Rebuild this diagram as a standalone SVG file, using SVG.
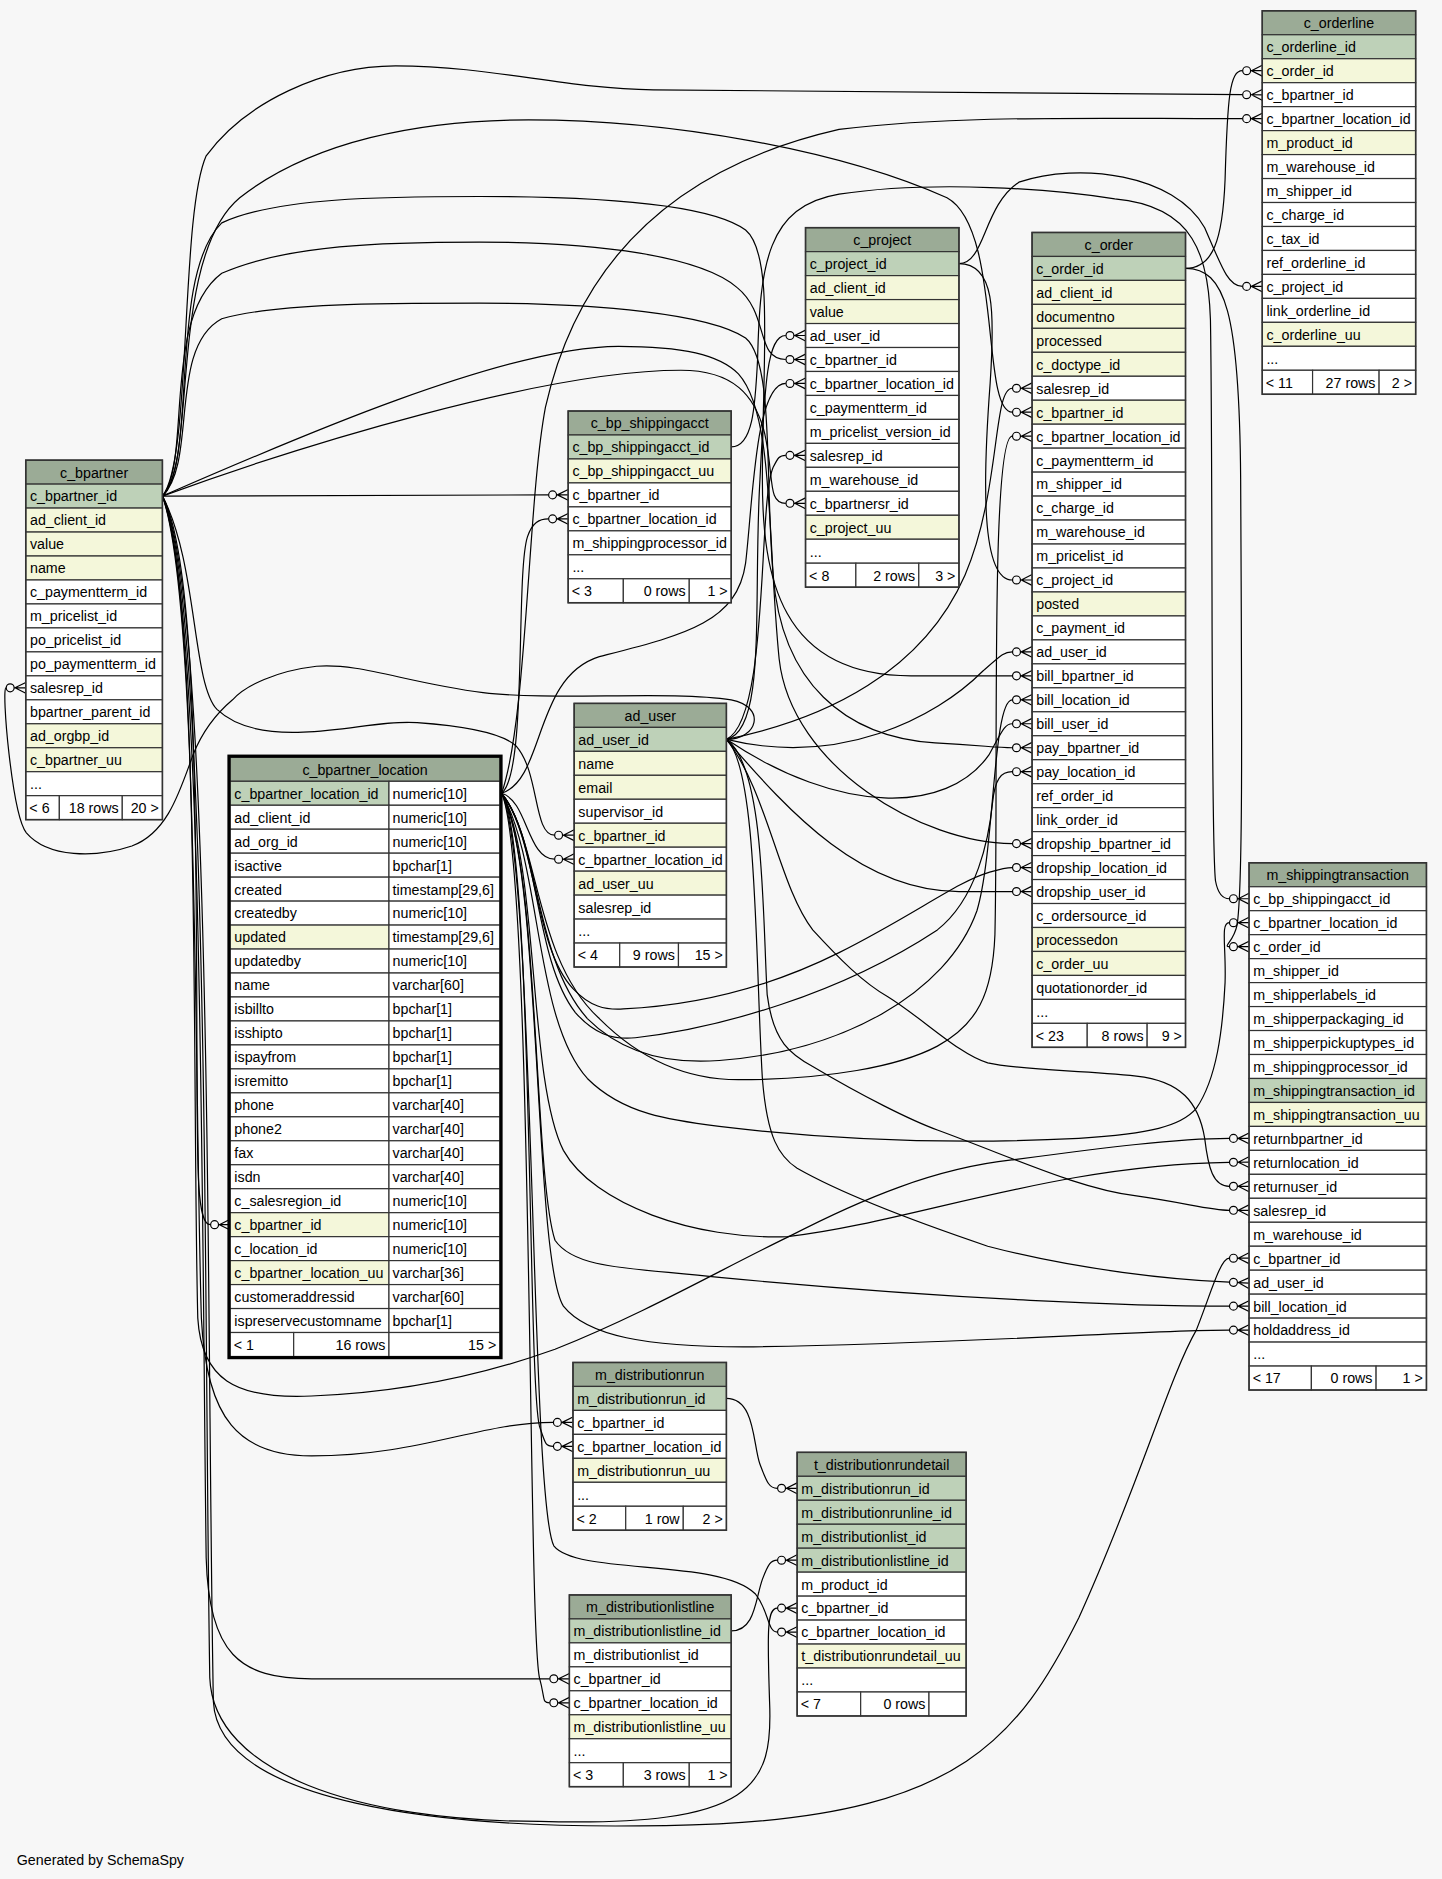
<svg xmlns="http://www.w3.org/2000/svg" width="1442" height="1879" viewBox="0 0 1442 1879">
<style>
.h{fill:#9bab96;stroke:#333;stroke-width:1}
.pk{fill:#bed1b8;stroke:#333;stroke-width:1}
.ix{fill:#f4f7da;stroke:#333;stroke-width:1}
.w{fill:#ffffff;stroke:#333;stroke-width:1}
text{font-family:"Liberation Sans",Arial,Helvetica,sans-serif;font-size:11.9px;fill:#000}
.c{text-anchor:middle}
.r{text-anchor:end}
.e path{fill:none;stroke:#000;stroke-width:1;marker-end:url(#cf)}
.ob{fill:none;stroke:#333;stroke-width:1.3}
</style>
<defs>
<marker id="cf" markerUnits="userSpaceOnUse" viewBox="0 -6 18 12" markerWidth="18" markerHeight="12" refX="0" refY="0" orient="auto" overflow="visible">
<circle cx="3.5" cy="0" r="3.3" fill="none" stroke="#000" stroke-width="1"/>
<path d="M6.8,0 H16.5 M7.5,0 L16.5,-4.5 M7.5,0 L16.5,4.5" fill="none" stroke="#000" stroke-width="1"/>
</marker>
</defs>
<rect x="0" y="0" width="1442" height="1879" fill="#f7f7f7"/>
<g transform="scale(1.1987,1.1983)">
<g id="connectors" class="e">
<path d="M135.5,414 L457.5,413"/>
<path d="M135.5,414 C160,385 150,180 172,130 C205,85 270,55 330,55 C410,55 470,74 545,75 L1036.5,79"/>
<path d="M135.5,414 C165,385 140,215 200,165 C260,118 350,100 441,100 C560,100 700,125 790,165 C836,190 818,344 844.5,344"/>
<path d="M135.5,414 C160,385 135,265 185,228 C240,204 320,202 400,202 C500,202 585,214 615,240 C642,262 630,300 655.5,300"/>
<path d="M135.5,414 C250,372 455,309 568,309 C612,309 630,330 638,362 C646,398 640,420 655.5,420"/>
<path d="M135.5,414 C165,385 140,230 185,186 C230,165 320,164 400,164 C500,164 592,170 622,192 C646,212 636,300 636,400 C636,480 650,564 760,564 L844.5,564"/>
<path d="M135.5,414 C165,385 140,290 185,266 C230,253 320,253 400,253 C500,253 592,262 622,282 C646,302 638,400 645,480 C652,570 705,615 780,620 C820,622 830,624 844.5,624"/>
<path d="M135.5,414 C232,372 420,289 516,289 C570,289 600,296 616,312 C646,345 640,450 650,550 C660,640 770,704 844.5,704"/>
<path d="M135.5,414 C165,470 160,570 181,592 C200,610 230,612 253,611 C290,610 320,601 348,603 C390,606 420,612 431,623 C450,645 445,697 462.5,697"/>
<path d="M135.5,414 C160,460 163,620 164,800 C165,960 162,1022 175.5,1022"/>
<path d="M135.5,414 C166,500 162,900 168,1100 C172,1185 200,1215 260,1215 C350,1215 400,1187 461.5,1187"/>
<path d="M135.5,414 C170,500 168,1000 172,1300 C174,1380 200,1401 260,1401 L458.5,1401"/>
<path d="M135.5,414 C175,500 170,1100 175,1400 C178,1480 300,1520 450,1520 C630,1525 645,1490 642,1420 C640,1360 640,1342 648.5,1342"/>
<path d="M135.5,414 C178,500 172,1100 178,1420 C182,1500 350,1532 600,1522 C800,1512 850,1450 900,1350 C950,1240 975,1150 998,1110 C1010,1080 1018,1050 1025.5,1050"/>
<path d="M135.5,414 C168,500 160,900 165,1100 C168,1150 195,1168 260,1165 C340,1162 410,1145 463,1126 C540,1095 600,1060 658,1032 C720,1000 780,975 844,968 C920,958 980,950 1025.5,950"/>
<path d="M418.5,662 C440,645 430,480 440,448 C444,436 450,433 457.5,433"/>
<path d="M418.5,662 C455,650 445,565 500,548 C570,530 615,520 622,470 C628,420 630,320 655.5,320"/>
<path d="M418.5,662 C440,668 440,717 462.5,717"/>
<path d="M418.5,662 C450,700 445,800 500,850 C540,890 580,901 616,901 C690,901 750,890 782,873 C815,855 828,830 830,780 C833,650 826,364 844.5,364"/>
<path d="M418.5,662 C450,700 445,800 490,850 C520,880 560,888 600,885 C700,878 790,830 815,760 C830,710 828,584 844.5,584"/>
<path d="M418.5,662 C450,700 445,800 480,845 C495,862 510,868 530,866 C600,858 700,830 782,776 C815,750 825,700 828,670 C830,650 835,644 844.5,644"/>
<path d="M418.5,662 C448,700 445,790 478,825 C492,840 505,843 520,842 C600,838 660,815 700,795 C760,765 800,735 825,728 C835,725 838,724 844.5,724"/>
<path d="M418.5,662 C440,600 440,420 455,340 C482,220 560,140 700,108 C800,96 900,99 1036.5,99"/>
<path d="M418.5,662 C452,720 445,850 490,900 C520,930 560,935 600,940 C700,952 800,955 900,950 C960,946 985,940 998,925 C1015,900 1020,860 1022,820 C1023,790 1018,770 1025.5,770"/>
<path d="M418.5,662 C450,720 440,900 470,960 C495,1005 580,1035 657,1032 C760,1020 880,972 1025.5,970"/>
<path d="M418.5,662 C450,720 445,980 463,1035 C480,1060 530,1058 600,1066 C800,1085 950,1090 1025.5,1090"/>
<path d="M418.5,662 C452,720 445,1050 470,1090 C490,1115 540,1124 620,1124 C800,1122 950,1110 1025.5,1110"/>
<path d="M418.5,662 C445,700 440,1150 450,1190 C455,1205 455,1207 461.5,1207"/>
<path d="M418.5,662 C445,720 440,1350 450,1400 C455,1418 452,1421 458.5,1421"/>
<path d="M418.5,662 C447,720 442,1250 462,1290 C482,1315 600,1300 630,1330 C642,1345 640,1362 648.5,1362"/>
<path d="M606,617 C632,617 640,590 610,584 C560,576 460,585 403,578 C340,570 300,553 264,556 C230,560 205,572 194,584 C175,600 165,620 161,630 C150,660 140,695 110,706 C80,716 40,716 22,695 C10,680 1,574 5,574"/>
<path d="M606,617 C640,610 628,500 634,400 C638,320 640,280 655.5,280"/>
<path d="M606,617 C642,600 632,420 645,390 C649,382 650,380 655.5,380"/>
<path d="M606,617 C690,600 770,560 805,480 C835,410 828,324 844.5,324"/>
<path d="M606,617 C700,640 780,600 820,560 C836,546 838,544 844.5,544"/>
<path d="M606,617 C700,680 790,680 825,630 C836,610 838,604 844.5,604"/>
<path d="M606,617 C660,680 720,744 800,744 L844.5,744"/>
<path d="M606,617 C640,660 650,740 678,776 C700,800 720,820 741,832 C770,850 800,880 824,887 C850,893 900,893 948,898 C985,902 1000,920 1005,950 C1008,975 1012,990 1025.5,990"/>
<path d="M606,617 C638,640 636,760 640,830 C645,870 660,880 678,890 C720,915 760,935 782,943 C850,968 900,992 948,998 C990,1004 1010,1010 1025.5,1010"/>
<path d="M606,617 C632,640 630,800 636,900 C640,950 650,965 665,975 C700,995 750,1015 824,1040 C900,1060 980,1068 1025.5,1070"/>
<path d="M800,220 C830,220 830,260 826,320 C820,400 818,484 844.5,484"/>
<path d="M800,220 C822,220 820,172 850,152 C900,135 980,145 1005,190 C1020,225 1025,239 1036.5,239"/>
<path d="M989,224 C1012,224 1020,200 1022,150 C1024,80 1026,59 1036.5,59"/>
<path d="M989,224 C1022,224 1034,260 1035,400 C1036,600 1037,740 1032,772 C1029,786 1020,790 1025.5,790"/>
<path d="M610,373 C628,373 630,340 632,300 C634,220 640,172 700,162 C780,150 880,158 930,166 C995,172 1010,210 1010,280 C1012,450 1010,700 1014,735 C1016,746 1020,750 1025.5,750"/>
<path d="M606,1167 C630,1167 628,1205 634,1222 C640,1238 642,1242 648.5,1242"/>
<path d="M610,1361 C630,1361 630,1335 636,1318 C641,1305 643,1302 648.5,1302"/>
</g>

<g id="c_bpartner">
<rect class="h" x="21.5" y="384" width="114" height="20"/><text class="c" x="78.5" y="398.5">c_bpartner</text>
<rect class="pk" x="21.5" y="404" width="114" height="20"/><text x="25" y="418.5">c_bpartner_id</text>
<rect class="ix" x="21.5" y="424" width="114" height="20"/><text x="25" y="438.5">ad_client_id</text>
<rect class="ix" x="21.5" y="444" width="114" height="20"/><text x="25" y="458.5">value</text>
<rect class="ix" x="21.5" y="464" width="114" height="20"/><text x="25" y="478.5">name</text>
<rect class="w" x="21.5" y="484" width="114" height="20"/><text x="25" y="498.5">c_paymentterm_id</text>
<rect class="w" x="21.5" y="504" width="114" height="20"/><text x="25" y="518.5">m_pricelist_id</text>
<rect class="w" x="21.5" y="524" width="114" height="20"/><text x="25" y="538.5">po_pricelist_id</text>
<rect class="w" x="21.5" y="544" width="114" height="20"/><text x="25" y="558.5">po_paymentterm_id</text>
<rect class="w" x="21.5" y="564" width="114" height="20"/><text x="25" y="578.5">salesrep_id</text>
<rect class="w" x="21.5" y="584" width="114" height="20"/><text x="25" y="598.5">bpartner_parent_id</text>
<rect class="ix" x="21.5" y="604" width="114" height="20"/><text x="25" y="618.5">ad_orgbp_id</text>
<rect class="ix" x="21.5" y="624" width="114" height="20"/><text x="25" y="638.5">c_bpartner_uu</text>
<rect class="w" x="21.5" y="644" width="114" height="20"/><text x="25" y="658.5">...</text>
<rect class="w" x="21.5" y="664" width="28" height="20"/><rect class="w" x="49.5" y="664" width="52.5" height="20"/><rect class="w" x="102" y="664" width="33.5" height="20"/>
<text x="24.5" y="678.5">&lt; 6</text><text class="r" x="99" y="678.5">18 rows</text><text class="r" x="132.5" y="678.5">20 &gt;</text>
<rect class="ob" x="21.5" y="384" width="114" height="300"/>
</g>

<g id="c_bp_shippingacct">
<rect class="h" x="474" y="343" width="136" height="20"/><text class="c" x="542" y="357.5">c_bp_shippingacct</text>
<rect class="pk" x="474" y="363" width="136" height="20"/><text x="477.5" y="377.5">c_bp_shippingacct_id</text>
<rect class="ix" x="474" y="383" width="136" height="20"/><text x="477.5" y="397.5">c_bp_shippingacct_uu</text>
<rect class="w" x="474" y="403" width="136" height="20"/><text x="477.5" y="417.5">c_bpartner_id</text>
<rect class="w" x="474" y="423" width="136" height="20"/><text x="477.5" y="437.5">c_bpartner_location_id</text>
<rect class="w" x="474" y="443" width="136" height="20"/><text x="477.5" y="457.5">m_shippingprocessor_id</text>
<rect class="w" x="474" y="463" width="136" height="20"/><text x="477.5" y="477.5">...</text>
<rect class="w" x="474" y="483" width="46" height="20"/><rect class="w" x="520" y="483" width="55" height="20"/><rect class="w" x="575" y="483" width="35" height="20"/>
<text x="477" y="497.5">&lt; 3</text><text class="r" x="572" y="497.5">0 rows</text><text class="r" x="607" y="497.5">1 &gt;</text>
<rect class="ob" x="474" y="343" width="136" height="160"/>
</g>

<g id="c_project">
<rect class="h" x="672" y="190" width="128" height="20"/><text class="c" x="736" y="204.5">c_project</text>
<rect class="pk" x="672" y="210" width="128" height="20"/><text x="675.5" y="224.5">c_project_id</text>
<rect class="ix" x="672" y="230" width="128" height="20"/><text x="675.5" y="244.5">ad_client_id</text>
<rect class="ix" x="672" y="250" width="128" height="20"/><text x="675.5" y="264.5">value</text>
<rect class="w" x="672" y="270" width="128" height="20"/><text x="675.5" y="284.5">ad_user_id</text>
<rect class="w" x="672" y="290" width="128" height="20"/><text x="675.5" y="304.5">c_bpartner_id</text>
<rect class="w" x="672" y="310" width="128" height="20"/><text x="675.5" y="324.5">c_bpartner_location_id</text>
<rect class="w" x="672" y="330" width="128" height="20"/><text x="675.5" y="344.5">c_paymentterm_id</text>
<rect class="w" x="672" y="350" width="128" height="20"/><text x="675.5" y="364.5">m_pricelist_version_id</text>
<rect class="w" x="672" y="370" width="128" height="20"/><text x="675.5" y="384.5">salesrep_id</text>
<rect class="w" x="672" y="390" width="128" height="20"/><text x="675.5" y="404.5">m_warehouse_id</text>
<rect class="w" x="672" y="410" width="128" height="20"/><text x="675.5" y="424.5">c_bpartnersr_id</text>
<rect class="ix" x="672" y="430" width="128" height="20"/><text x="675.5" y="444.5">c_project_uu</text>
<rect class="w" x="672" y="450" width="128" height="20"/><text x="675.5" y="464.5">...</text>
<rect class="w" x="672" y="470" width="42" height="20"/><rect class="w" x="714" y="470" width="52.5" height="20"/><rect class="w" x="766.5" y="470" width="33.5" height="20"/>
<text x="675" y="484.5">&lt; 8</text><text class="r" x="763.5" y="484.5">2 rows</text><text class="r" x="797" y="484.5">3 &gt;</text>
<rect class="ob" x="672" y="190" width="128" height="300"/>
</g>

<g id="c_order">
<rect class="h" x="861" y="194" width="128" height="20"/><text class="c" x="925" y="208.5">c_order</text>
<rect class="pk" x="861" y="214" width="128" height="20"/><text x="864.5" y="228.5">c_order_id</text>
<rect class="ix" x="861" y="234" width="128" height="20"/><text x="864.5" y="248.5">ad_client_id</text>
<rect class="ix" x="861" y="254" width="128" height="20"/><text x="864.5" y="268.5">documentno</text>
<rect class="ix" x="861" y="274" width="128" height="20"/><text x="864.5" y="288.5">processed</text>
<rect class="ix" x="861" y="294" width="128" height="20"/><text x="864.5" y="308.5">c_doctype_id</text>
<rect class="w" x="861" y="314" width="128" height="20"/><text x="864.5" y="328.5">salesrep_id</text>
<rect class="ix" x="861" y="334" width="128" height="20"/><text x="864.5" y="348.5">c_bpartner_id</text>
<rect class="w" x="861" y="354" width="128" height="20"/><text x="864.5" y="368.5">c_bpartner_location_id</text>
<rect class="w" x="861" y="374" width="128" height="20"/><text x="864.5" y="388.5">c_paymentterm_id</text>
<rect class="w" x="861" y="394" width="128" height="20"/><text x="864.5" y="408.5">m_shipper_id</text>
<rect class="w" x="861" y="414" width="128" height="20"/><text x="864.5" y="428.5">c_charge_id</text>
<rect class="w" x="861" y="434" width="128" height="20"/><text x="864.5" y="448.5">m_warehouse_id</text>
<rect class="w" x="861" y="454" width="128" height="20"/><text x="864.5" y="468.5">m_pricelist_id</text>
<rect class="w" x="861" y="474" width="128" height="20"/><text x="864.5" y="488.5">c_project_id</text>
<rect class="ix" x="861" y="494" width="128" height="20"/><text x="864.5" y="508.5">posted</text>
<rect class="w" x="861" y="514" width="128" height="20"/><text x="864.5" y="528.5">c_payment_id</text>
<rect class="w" x="861" y="534" width="128" height="20"/><text x="864.5" y="548.5">ad_user_id</text>
<rect class="w" x="861" y="554" width="128" height="20"/><text x="864.5" y="568.5">bill_bpartner_id</text>
<rect class="w" x="861" y="574" width="128" height="20"/><text x="864.5" y="588.5">bill_location_id</text>
<rect class="w" x="861" y="594" width="128" height="20"/><text x="864.5" y="608.5">bill_user_id</text>
<rect class="w" x="861" y="614" width="128" height="20"/><text x="864.5" y="628.5">pay_bpartner_id</text>
<rect class="w" x="861" y="634" width="128" height="20"/><text x="864.5" y="648.5">pay_location_id</text>
<rect class="w" x="861" y="654" width="128" height="20"/><text x="864.5" y="668.5">ref_order_id</text>
<rect class="w" x="861" y="674" width="128" height="20"/><text x="864.5" y="688.5">link_order_id</text>
<rect class="w" x="861" y="694" width="128" height="20"/><text x="864.5" y="708.5">dropship_bpartner_id</text>
<rect class="w" x="861" y="714" width="128" height="20"/><text x="864.5" y="728.5">dropship_location_id</text>
<rect class="w" x="861" y="734" width="128" height="20"/><text x="864.5" y="748.5">dropship_user_id</text>
<rect class="w" x="861" y="754" width="128" height="20"/><text x="864.5" y="768.5">c_ordersource_id</text>
<rect class="ix" x="861" y="774" width="128" height="20"/><text x="864.5" y="788.5">processedon</text>
<rect class="ix" x="861" y="794" width="128" height="20"/><text x="864.5" y="808.5">c_order_uu</text>
<rect class="w" x="861" y="814" width="128" height="20"/><text x="864.5" y="828.5">quotationorder_id</text>
<rect class="w" x="861" y="834" width="128" height="20"/><text x="864.5" y="848.5">...</text>
<rect class="w" x="861" y="854" width="46" height="20"/><rect class="w" x="907" y="854" width="50" height="20"/><rect class="w" x="957" y="854" width="32" height="20"/>
<text x="864" y="868.5">&lt; 23</text><text class="r" x="954" y="868.5">8 rows</text><text class="r" x="986" y="868.5">9 &gt;</text>
<rect class="ob" x="861" y="194" width="128" height="680"/>
</g>

<g id="c_orderline">
<rect class="h" x="1053" y="9" width="128" height="20"/><text class="c" x="1117" y="23.5">c_orderline</text>
<rect class="pk" x="1053" y="29" width="128" height="20"/><text x="1056.5" y="43.5">c_orderline_id</text>
<rect class="ix" x="1053" y="49" width="128" height="20"/><text x="1056.5" y="63.5">c_order_id</text>
<rect class="w" x="1053" y="69" width="128" height="20"/><text x="1056.5" y="83.5">c_bpartner_id</text>
<rect class="w" x="1053" y="89" width="128" height="20"/><text x="1056.5" y="103.5">c_bpartner_location_id</text>
<rect class="ix" x="1053" y="109" width="128" height="20"/><text x="1056.5" y="123.5">m_product_id</text>
<rect class="w" x="1053" y="129" width="128" height="20"/><text x="1056.5" y="143.5">m_warehouse_id</text>
<rect class="w" x="1053" y="149" width="128" height="20"/><text x="1056.5" y="163.5">m_shipper_id</text>
<rect class="w" x="1053" y="169" width="128" height="20"/><text x="1056.5" y="183.5">c_charge_id</text>
<rect class="w" x="1053" y="189" width="128" height="20"/><text x="1056.5" y="203.5">c_tax_id</text>
<rect class="w" x="1053" y="209" width="128" height="20"/><text x="1056.5" y="223.5">ref_orderline_id</text>
<rect class="w" x="1053" y="229" width="128" height="20"/><text x="1056.5" y="243.5">c_project_id</text>
<rect class="w" x="1053" y="249" width="128" height="20"/><text x="1056.5" y="263.5">link_orderline_id</text>
<rect class="ix" x="1053" y="269" width="128" height="20"/><text x="1056.5" y="283.5">c_orderline_uu</text>
<rect class="w" x="1053" y="289" width="128" height="20"/><text x="1056.5" y="303.5">...</text>
<rect class="w" x="1053" y="309" width="42" height="20"/><rect class="w" x="1095" y="309" width="55.5" height="20"/><rect class="w" x="1150.5" y="309" width="30.5" height="20"/>
<text x="1056" y="323.5">&lt; 11</text><text class="r" x="1147.5" y="323.5">27 rows</text><text class="r" x="1178" y="323.5">2 &gt;</text>
<rect class="ob" x="1053" y="9" width="128" height="320"/>
</g>

<g id="ad_user">
<rect class="h" x="479" y="587" width="127" height="20"/><text class="c" x="542.5" y="601.5">ad_user</text>
<rect class="pk" x="479" y="607" width="127" height="20"/><text x="482.5" y="621.5">ad_user_id</text>
<rect class="ix" x="479" y="627" width="127" height="20"/><text x="482.5" y="641.5">name</text>
<rect class="ix" x="479" y="647" width="127" height="20"/><text x="482.5" y="661.5">email</text>
<rect class="w" x="479" y="667" width="127" height="20"/><text x="482.5" y="681.5">supervisor_id</text>
<rect class="ix" x="479" y="687" width="127" height="20"/><text x="482.5" y="701.5">c_bpartner_id</text>
<rect class="w" x="479" y="707" width="127" height="20"/><text x="482.5" y="721.5">c_bpartner_location_id</text>
<rect class="ix" x="479" y="727" width="127" height="20"/><text x="482.5" y="741.5">ad_user_uu</text>
<rect class="w" x="479" y="747" width="127" height="20"/><text x="482.5" y="761.5">salesrep_id</text>
<rect class="w" x="479" y="767" width="127" height="20"/><text x="482.5" y="781.5">...</text>
<rect class="w" x="479" y="787" width="38" height="20"/><rect class="w" x="517" y="787" width="49" height="20"/><rect class="w" x="566" y="787" width="40" height="20"/>
<text x="482" y="801.5">&lt; 4</text><text class="r" x="563" y="801.5">9 rows</text><text class="r" x="603" y="801.5">15 &gt;</text>
<rect class="ob" x="479" y="587" width="127" height="220"/>
</g>

<g id="m_shippingtransaction">
<rect class="h" x="1042" y="720" width="148" height="20"/><text class="c" x="1116" y="734.5">m_shippingtransaction</text>
<rect class="w" x="1042" y="740" width="148" height="20"/><text x="1045.5" y="754.5">c_bp_shippingacct_id</text>
<rect class="w" x="1042" y="760" width="148" height="20"/><text x="1045.5" y="774.5">c_bpartner_location_id</text>
<rect class="w" x="1042" y="780" width="148" height="20"/><text x="1045.5" y="794.5">c_order_id</text>
<rect class="w" x="1042" y="800" width="148" height="20"/><text x="1045.5" y="814.5">m_shipper_id</text>
<rect class="w" x="1042" y="820" width="148" height="20"/><text x="1045.5" y="834.5">m_shipperlabels_id</text>
<rect class="w" x="1042" y="840" width="148" height="20"/><text x="1045.5" y="854.5">m_shipperpackaging_id</text>
<rect class="w" x="1042" y="860" width="148" height="20"/><text x="1045.5" y="874.5">m_shipperpickuptypes_id</text>
<rect class="w" x="1042" y="880" width="148" height="20"/><text x="1045.5" y="894.5">m_shippingprocessor_id</text>
<rect class="pk" x="1042" y="900" width="148" height="20"/><text x="1045.5" y="914.5">m_shippingtransaction_id</text>
<rect class="ix" x="1042" y="920" width="148" height="20"/><text x="1045.5" y="934.5">m_shippingtransaction_uu</text>
<rect class="w" x="1042" y="940" width="148" height="20"/><text x="1045.5" y="954.5">returnbpartner_id</text>
<rect class="w" x="1042" y="960" width="148" height="20"/><text x="1045.5" y="974.5">returnlocation_id</text>
<rect class="w" x="1042" y="980" width="148" height="20"/><text x="1045.5" y="994.5">returnuser_id</text>
<rect class="w" x="1042" y="1000" width="148" height="20"/><text x="1045.5" y="1014.5">salesrep_id</text>
<rect class="w" x="1042" y="1020" width="148" height="20"/><text x="1045.5" y="1034.5">m_warehouse_id</text>
<rect class="w" x="1042" y="1040" width="148" height="20"/><text x="1045.5" y="1054.5">c_bpartner_id</text>
<rect class="w" x="1042" y="1060" width="148" height="20"/><text x="1045.5" y="1074.5">ad_user_id</text>
<rect class="w" x="1042" y="1080" width="148" height="20"/><text x="1045.5" y="1094.5">bill_location_id</text>
<rect class="w" x="1042" y="1100" width="148" height="20"/><text x="1045.5" y="1114.5">holdaddress_id</text>
<rect class="w" x="1042" y="1120" width="148" height="20"/><text x="1045.5" y="1134.5">...</text>
<rect class="w" x="1042" y="1140" width="52" height="20"/><rect class="w" x="1094" y="1140" width="54" height="20"/><rect class="w" x="1148" y="1140" width="42" height="20"/>
<text x="1045" y="1154.5">&lt; 17</text><text class="r" x="1145" y="1154.5">0 rows</text><text class="r" x="1187" y="1154.5">1 &gt;</text>
<rect class="ob" x="1042" y="720" width="148" height="440"/>
</g>

<g id="m_distributionrun">
<rect class="h" x="478" y="1137" width="128" height="20"/><text class="c" x="542" y="1151.5">m_distributionrun</text>
<rect class="pk" x="478" y="1157" width="128" height="20"/><text x="481.5" y="1171.5">m_distributionrun_id</text>
<rect class="w" x="478" y="1177" width="128" height="20"/><text x="481.5" y="1191.5">c_bpartner_id</text>
<rect class="w" x="478" y="1197" width="128" height="20"/><text x="481.5" y="1211.5">c_bpartner_location_id</text>
<rect class="ix" x="478" y="1217" width="128" height="20"/><text x="481.5" y="1231.5">m_distributionrun_uu</text>
<rect class="w" x="478" y="1237" width="128" height="20"/><text x="481.5" y="1251.5">...</text>
<rect class="w" x="478" y="1257" width="44" height="20"/><rect class="w" x="522" y="1257" width="48" height="20"/><rect class="w" x="570" y="1257" width="36" height="20"/>
<text x="481" y="1271.5">&lt; 2</text><text class="r" x="567" y="1271.5">1 row</text><text class="r" x="603" y="1271.5">2 &gt;</text>
<rect class="ob" x="478" y="1137" width="128" height="140"/>
</g>

<g id="t_distributionrundetail">
<rect class="h" x="665" y="1212" width="141" height="20"/><text class="c" x="735.5" y="1226.5">t_distributionrundetail</text>
<rect class="pk" x="665" y="1232" width="141" height="20"/><text x="668.5" y="1246.5">m_distributionrun_id</text>
<rect class="pk" x="665" y="1252" width="141" height="20"/><text x="668.5" y="1266.5">m_distributionrunline_id</text>
<rect class="pk" x="665" y="1272" width="141" height="20"/><text x="668.5" y="1286.5">m_distributionlist_id</text>
<rect class="pk" x="665" y="1292" width="141" height="20"/><text x="668.5" y="1306.5">m_distributionlistline_id</text>
<rect class="w" x="665" y="1312" width="141" height="20"/><text x="668.5" y="1326.5">m_product_id</text>
<rect class="w" x="665" y="1332" width="141" height="20"/><text x="668.5" y="1346.5">c_bpartner_id</text>
<rect class="w" x="665" y="1352" width="141" height="20"/><text x="668.5" y="1366.5">c_bpartner_location_id</text>
<rect class="ix" x="665" y="1372" width="141" height="20"/><text x="668.5" y="1386.5">t_distributionrundetail_uu</text>
<rect class="w" x="665" y="1392" width="141" height="20"/><text x="668.5" y="1406.5">...</text>
<rect class="w" x="665" y="1412" width="53" height="20"/><rect class="w" x="718" y="1412" width="57" height="20"/><rect class="w" x="775" y="1412" width="31" height="20"/>
<text x="668" y="1426.5">&lt; 7</text><text class="r" x="772" y="1426.5">0 rows</text>
<rect class="ob" x="665" y="1212" width="141" height="220"/>
</g>

<g id="m_distributionlistline">
<rect class="h" x="475" y="1331" width="135" height="20"/><text class="c" x="542.5" y="1345.5">m_distributionlistline</text>
<rect class="pk" x="475" y="1351" width="135" height="20"/><text x="478.5" y="1365.5">m_distributionlistline_id</text>
<rect class="w" x="475" y="1371" width="135" height="20"/><text x="478.5" y="1385.5">m_distributionlist_id</text>
<rect class="w" x="475" y="1391" width="135" height="20"/><text x="478.5" y="1405.5">c_bpartner_id</text>
<rect class="w" x="475" y="1411" width="135" height="20"/><text x="478.5" y="1425.5">c_bpartner_location_id</text>
<rect class="ix" x="475" y="1431" width="135" height="20"/><text x="478.5" y="1445.5">m_distributionlistline_uu</text>
<rect class="w" x="475" y="1451" width="135" height="20"/><text x="478.5" y="1465.5">...</text>
<rect class="w" x="475" y="1471" width="45" height="20"/><rect class="w" x="520" y="1471" width="55" height="20"/><rect class="w" x="575" y="1471" width="35" height="20"/>
<text x="478" y="1485.5">&lt; 3</text><text class="r" x="572" y="1485.5">3 rows</text><text class="r" x="607" y="1485.5">1 &gt;</text>
<rect class="ob" x="475" y="1331" width="135" height="160"/>
</g>

<g id="c_bpartner_location">
<rect class="h" x="192" y="632" width="225" height="20"/><text class="c" x="304.5" y="646.5">c_bpartner_location</text>
<rect class="pk" x="192" y="652" width="132.5" height="20"/><rect class="w" x="324.5" y="652" width="92.5" height="20"/><text x="195.5" y="666.5">c_bpartner_location_id</text><text x="327.5" y="666.5">numeric[10]</text>
<rect class="w" x="192" y="672" width="132.5" height="20"/><rect class="w" x="324.5" y="672" width="92.5" height="20"/><text x="195.5" y="686.5">ad_client_id</text><text x="327.5" y="686.5">numeric[10]</text>
<rect class="w" x="192" y="692" width="132.5" height="20"/><rect class="w" x="324.5" y="692" width="92.5" height="20"/><text x="195.5" y="706.5">ad_org_id</text><text x="327.5" y="706.5">numeric[10]</text>
<rect class="w" x="192" y="712" width="132.5" height="20"/><rect class="w" x="324.5" y="712" width="92.5" height="20"/><text x="195.5" y="726.5">isactive</text><text x="327.5" y="726.5">bpchar[1]</text>
<rect class="w" x="192" y="732" width="132.5" height="20"/><rect class="w" x="324.5" y="732" width="92.5" height="20"/><text x="195.5" y="746.5">created</text><text x="327.5" y="746.5">timestamp[29,6]</text>
<rect class="w" x="192" y="752" width="132.5" height="20"/><rect class="w" x="324.5" y="752" width="92.5" height="20"/><text x="195.5" y="766.5">createdby</text><text x="327.5" y="766.5">numeric[10]</text>
<rect class="ix" x="192" y="772" width="132.5" height="20"/><rect class="w" x="324.5" y="772" width="92.5" height="20"/><text x="195.5" y="786.5">updated</text><text x="327.5" y="786.5">timestamp[29,6]</text>
<rect class="w" x="192" y="792" width="132.5" height="20"/><rect class="w" x="324.5" y="792" width="92.5" height="20"/><text x="195.5" y="806.5">updatedby</text><text x="327.5" y="806.5">numeric[10]</text>
<rect class="w" x="192" y="812" width="132.5" height="20"/><rect class="w" x="324.5" y="812" width="92.5" height="20"/><text x="195.5" y="826.5">name</text><text x="327.5" y="826.5">varchar[60]</text>
<rect class="w" x="192" y="832" width="132.5" height="20"/><rect class="w" x="324.5" y="832" width="92.5" height="20"/><text x="195.5" y="846.5">isbillto</text><text x="327.5" y="846.5">bpchar[1]</text>
<rect class="w" x="192" y="852" width="132.5" height="20"/><rect class="w" x="324.5" y="852" width="92.5" height="20"/><text x="195.5" y="866.5">isshipto</text><text x="327.5" y="866.5">bpchar[1]</text>
<rect class="w" x="192" y="872" width="132.5" height="20"/><rect class="w" x="324.5" y="872" width="92.5" height="20"/><text x="195.5" y="886.5">ispayfrom</text><text x="327.5" y="886.5">bpchar[1]</text>
<rect class="w" x="192" y="892" width="132.5" height="20"/><rect class="w" x="324.5" y="892" width="92.5" height="20"/><text x="195.5" y="906.5">isremitto</text><text x="327.5" y="906.5">bpchar[1]</text>
<rect class="w" x="192" y="912" width="132.5" height="20"/><rect class="w" x="324.5" y="912" width="92.5" height="20"/><text x="195.5" y="926.5">phone</text><text x="327.5" y="926.5">varchar[40]</text>
<rect class="w" x="192" y="932" width="132.5" height="20"/><rect class="w" x="324.5" y="932" width="92.5" height="20"/><text x="195.5" y="946.5">phone2</text><text x="327.5" y="946.5">varchar[40]</text>
<rect class="w" x="192" y="952" width="132.5" height="20"/><rect class="w" x="324.5" y="952" width="92.5" height="20"/><text x="195.5" y="966.5">fax</text><text x="327.5" y="966.5">varchar[40]</text>
<rect class="w" x="192" y="972" width="132.5" height="20"/><rect class="w" x="324.5" y="972" width="92.5" height="20"/><text x="195.5" y="986.5">isdn</text><text x="327.5" y="986.5">varchar[40]</text>
<rect class="w" x="192" y="992" width="132.5" height="20"/><rect class="w" x="324.5" y="992" width="92.5" height="20"/><text x="195.5" y="1006.5">c_salesregion_id</text><text x="327.5" y="1006.5">numeric[10]</text>
<rect class="ix" x="192" y="1012" width="132.5" height="20"/><rect class="w" x="324.5" y="1012" width="92.5" height="20"/><text x="195.5" y="1026.5">c_bpartner_id</text><text x="327.5" y="1026.5">numeric[10]</text>
<rect class="w" x="192" y="1032" width="132.5" height="20"/><rect class="w" x="324.5" y="1032" width="92.5" height="20"/><text x="195.5" y="1046.5">c_location_id</text><text x="327.5" y="1046.5">numeric[10]</text>
<rect class="ix" x="192" y="1052" width="132.5" height="20"/><rect class="w" x="324.5" y="1052" width="92.5" height="20"/><text x="195.5" y="1066.5">c_bpartner_location_uu</text><text x="327.5" y="1066.5">varchar[36]</text>
<rect class="w" x="192" y="1072" width="132.5" height="20"/><rect class="w" x="324.5" y="1072" width="92.5" height="20"/><text x="195.5" y="1086.5">customeraddressid</text><text x="327.5" y="1086.5">varchar[60]</text>
<rect class="w" x="192" y="1092" width="132.5" height="20"/><rect class="w" x="324.5" y="1092" width="92.5" height="20"/><text x="195.5" y="1106.5">ispreservecustomname</text><text x="327.5" y="1106.5">bpchar[1]</text>
<rect class="w" x="192" y="1112" width="53" height="20"/><rect class="w" x="245" y="1112" width="79.5" height="20"/><rect class="w" x="324.5" y="1112" width="92.5" height="20"/>
<text x="195" y="1126.5">&lt; 1</text><text class="r" x="321.5" y="1126.5">16 rows</text><text class="r" x="414" y="1126.5">15 &gt;</text>
<rect x="191" y="631" width="227" height="502" fill="none" stroke="#000" stroke-width="2.6"/>
</g>

<text x="14" y="1556">Generated by SchemaSpy</text>
</g>
</svg>
